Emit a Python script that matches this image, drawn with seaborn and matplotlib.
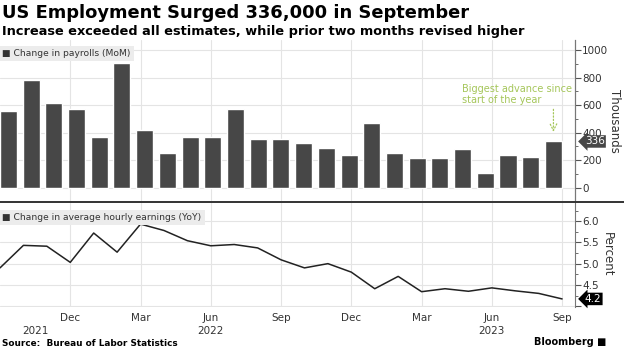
import numpy as np
import pandas as pd
import seaborn as sns
import matplotlib.pyplot as plt
from matplotlib.lines import Line2D

# monthly data, Sep 2021 .. Sep 2023
months = pd.date_range("2021-09-01", "2023-09-01", freq="MS")
payrolls = [558, 781, 616, 570, 366, 905, 417, 252, 366, 371, 570, 352, 352,
            323, 291, 238, 473, 250, 218, 218, 284, 105, 238, 225, 336]
earnings = [4.90, 5.43, 5.41, 5.03, 5.72, 5.27, 5.93, 5.78, 5.54, 5.42, 5.45, 5.37, 5.09,
            4.90, 5.00, 4.80, 4.41, 4.70, 4.34, 4.41, 4.35, 4.43, 4.36, 4.30, 4.17]

tick_idx = [3, 6, 9, 12, 15, 18, 21, 24]
tick_labels = ["Dec", "Mar", "Jun", "Sep", "Dec", "Mar", "Jun", "Sep"]
year_labels = ["2021", "2022", "2023"]
year_pos = [1.5, 9, 21]

sns.set_theme(style="white")
plt.rcParams["font.family"] = ["DejaVu Sans"]

W, H = 624, 355
fig = plt.figure(figsize=(W / 100, H / 100), dpi=100)
fig.patch.set_facecolor("white")

grid_c = "#e4e4e4"
txt_c = "#333333"


def fy(px):
    return 1 - px / H


ax1 = fig.add_axes([0, fy(201), 575 / W, 161 / H])
ax2 = fig.add_axes([0, fy(307), 575 / W, 105 / H])

# ---- top panel: payrolls
labels = months.strftime("%b %Y")
sns.barplot(x=labels, y=payrolls, color="#474747", saturation=1, width=0.75, ax=ax1)
ax1.set_xlim(-0.37, 24.95)
ax1.set_ylim(-97, 1074)
ax1.set_xticks([])
ax1.set_xlabel("")
ax1.yaxis.tick_right()
ax1.yaxis.set_label_position("right")
ax1.set_yticks(range(0, 1001, 200))
ax1.set_yticks(range(0, 1001, 100), minor=True)
ax1.grid(axis="y", color=grid_c, lw=0.8)
ax1.set_axisbelow(True)
ax1.tick_params(axis="y", which="major", direction="out", length=4, width=0.8,
                colors="#555", labelsize=7.5, labelcolor=txt_c, pad=1, right=True)
ax1.tick_params(axis="y", which="minor", direction="out", length=2, width=0.6,
                colors="#555", right=True)
ax1.set_ylabel("Thousands", rotation=270, fontsize=8.5, color=txt_c, labelpad=9)

# date-scale twin only for vertical gridlines
ax1t = ax1.twiny()
ax1t.set_xlim(0, 24.55)
ax1t.set_xticks(tick_idx)
ax1t.tick_params(axis="x", length=0, labeltop=False)
ax1t.grid(axis="x", color=grid_c, lw=0.8)
ax1t.set_zorder(ax1.get_zorder() - 1)
ax1.patch.set_visible(False)

for ax in (ax1, ax1t):
    for s in ["top", "left", "bottom"]:
        ax.spines[s].set_visible(False)
    ax.spines["right"].set_color("#777")
    ax.spines["right"].set_linewidth(0.8)

ax1.text(0.004, 0.915, "\u25a0 Change in payrolls (MoM)", transform=ax1.transAxes,
         fontsize=6.6, color=txt_c, va="center", ha="left",
         bbox=dict(boxstyle="square,pad=0.35", fc="#ececec", ec="none"))

green = "#a5c65a"
ax1.text(19.97, 680, "Biggest advance since\nstart of the year", fontsize=7.0,
         color=green, ha="left", va="center", linespacing=1.1)
ax1.annotate("", xy=(24, 385), xytext=(24, 590),
             arrowprops=dict(arrowstyle="->", color=green, lw=0.9, linestyle=":"))

ax1.annotate("336", xy=(1.0, payrolls[-1]), xycoords=("axes fraction", "data"),
             xytext=(7, 0), textcoords="offset points", ha="left", va="center",
             fontsize=7.5, color="white", zorder=5,
             bbox=dict(boxstyle="larrow,pad=0.12", fc="#474747", ec="none"))

# ---- bottom panel: hourly earnings
sns.lineplot(x=np.arange(len(earnings)), y=earnings, color="#222222", lw=1.1, ax=ax2)
ax2.set_xlim(0, 24.55)
ax2.set_ylim(3.98, 6.45)
ax2.set_xticks(tick_idx)
ax2.set_xticklabels(tick_labels)
ax2.yaxis.tick_right()
ax2.yaxis.set_label_position("right")
ax2.set_yticks([4.0, 4.5, 5.0, 5.5, 6.0])
ax2.set_yticklabels(["", "4.5", "5.0", "5.5", "6.0"])
ax2.set_yticks(np.arange(4.0, 6.3, 0.25), minor=True)
ax2.grid(axis="both", color=grid_c, lw=0.8)
ax2.set_axisbelow(True)
ax2.tick_params(axis="x", length=0, labelsize=7.5, labelcolor=txt_c, pad=4)
ax2.tick_params(axis="y", which="major", direction="out", length=4, width=0.8,
                colors="#555", labelsize=7.5, labelcolor=txt_c, pad=1, right=True)
ax2.tick_params(axis="y", which="minor", direction="out", length=2, width=0.6,
                colors="#555", right=True)
ax2.set_ylabel("Percent", rotation=270, fontsize=8.5, color=txt_c, labelpad=11)
for s in ["top", "left", "bottom"]:
    ax2.spines[s].set_visible(False)
ax2.spines["right"].set_color("#777")
ax2.spines["right"].set_linewidth(0.8)

for lab, pos in zip(year_labels, year_pos):
    ax2.text(pos, -0.225, lab, transform=ax2.get_xaxis_transform(), ha="center",
             va="center", fontsize=7.5, color=txt_c)

ax2.text(0.004, 0.855, "\u25a0 Change in average hourly earnings (YoY)", transform=ax2.transAxes,
         fontsize=6.6, color=txt_c, va="center", ha="left",
         bbox=dict(boxstyle="square,pad=0.35", fc="#ececec", ec="none"))

ax2.annotate("4.2", xy=(1.0, earnings[-1]), xycoords=("axes fraction", "data"),
             xytext=(7, 0), textcoords="offset points", ha="left", va="center",
             fontsize=7.5, color="white", zorder=5,
             bbox=dict(boxstyle="larrow,pad=0.12", fc="black", ec="none"))

# divider between panels
fig.add_artist(Line2D([0, 1], [fy(201.5)] * 2, color="#333333", lw=1.4))

# ---- titles and footer
fig.text(2 / W, fy(13), "US Employment Surged 336,000 in September", fontsize=12.9,
         fontweight="bold", color="black", ha="left", va="center")
fig.text(2 / W, fy(31), "Increase exceeded all estimates, while prior two months revised higher",
         fontsize=9.3, fontweight="bold", color="black", ha="left", va="center")
fig.text(2 / W, fy(343), "Source:  Bureau of Labor Statistics", fontsize=6.4,
         fontweight="bold", color="black", ha="left", va="center")
fig.text(606 / W, fy(342), "Bloomberg \u25a0", fontsize=7.0, fontweight="bold",
         color="black", ha="right", va="center")

fig.savefig("out.png", dpi=100)
